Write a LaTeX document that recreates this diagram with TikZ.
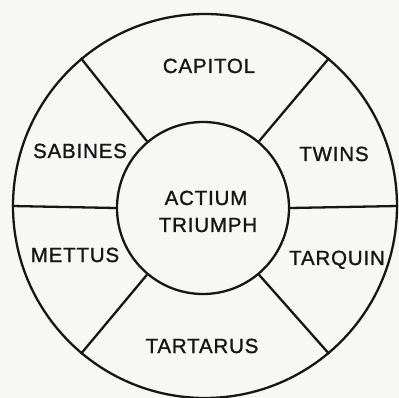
\documentclass[tikz,border=0pt]{standalone}
\usepackage{fontspec}
\setmainfont{Liberation Sans}[LetterSpace=4,FakeBold=1.2]
\usetikzlibrary{positioning}
\definecolor{tinta}{RGB}{22, 22, 22}
\definecolor{papel}{RGB}{247, 247, 245}

\begin{document}
\begin{tikzpicture}[x=1pt,y=-1pt,
    ring/.style={draw=tinta,line width=2.3pt,circle,inner sep=0pt},
    spoke/.style={draw=tinta,line width=2.3pt},
    tag/.style={text=tinta,font=\fontsize{20.5}{27}\selectfont,anchor=base,inner sep=0pt}]
  \fill[papel] (0,0) rectangle (399,398);
  \useasboundingbox (0,0) rectangle (399,398);
  % the two rings
  \node[ring,minimum size=384pt] (rim) at (205,206) {};
  \node[ring,minimum size=172pt,fill=papel] (hub) at (203,208) {};
  % spokes between them
  \foreach \a in {0,50,130,180,230,310}
    \draw[spoke] (hub.\a) -- (rim.\a);
  % sectors
  \node[tag] (capitol) at (209,73) {CAPITOL};
  \node[tag] (twins) at (334,161) {TWINS};
  \node[tag] (sabines) at (80,158) {SABINES};
  \node[tag] (mettus) at (75,262) {METTUS};
  \node[tag] (tarquin) at (337,265) {TARQUIN};
  \node[tag] (tartarus) at (202,353) {TARTARUS};
  \node[tag] (actium) at (206,205) {ACTIUM};
  \node[tag] (triumph) at (208,232) {TRIUMPH};
\end{tikzpicture}
\end{document}
